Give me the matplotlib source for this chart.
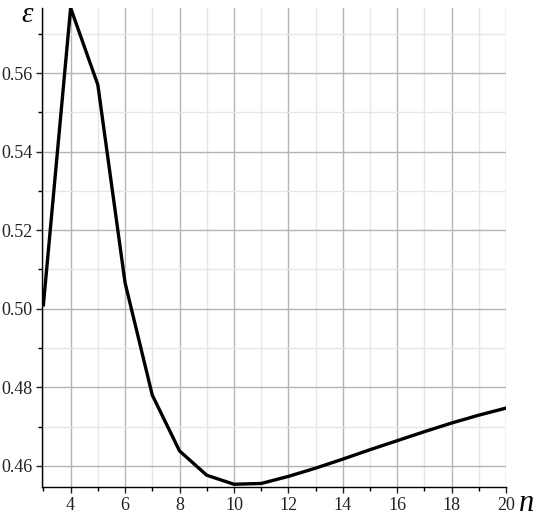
import numpy as np
import matplotlib.pyplot as plt
from matplotlib.ticker import MultipleLocator

# Data
n = [3, 4, 5, 6, 7, 8, 9, 10, 11, 12, 13, 14, 15, 16, 17, 18, 19, 20]
eps = [0.501, 0.5766, 0.557, 0.5066, 0.478, 0.4638, 0.4576, 0.4553, 0.4555,
       0.4573, 0.4594, 0.4617, 0.4641, 0.4664, 0.4687, 0.4709, 0.4729, 0.4747]

plt.rcParams['font.family'] = ['Liberation Serif', 'DejaVu Serif']

fig = plt.figure(figsize=(5.46, 5.24), dpi=100)
ax = fig.add_axes([0.077, 0.0706, 0.85, 0.9144])

ax.plot(n, eps, color='black', lw=2.4, zorder=3)

ax.set_xlim(2.95, 20)
ax.set_ylim(0.4546, 0.5766)
ax.xaxis.set_major_locator(MultipleLocator(2))
ax.xaxis.set_minor_locator(MultipleLocator(1))
ax.yaxis.set_major_locator(MultipleLocator(0.02))
ax.yaxis.set_minor_locator(MultipleLocator(0.01))
ax.yaxis.set_major_formatter(plt.FuncFormatter(lambda v, p: f'{v:.2f}'))

ax.grid(which='major', color='#b4b4b4', lw=1.0)
ax.grid(which='minor', color='#e6e6e6', lw=1.0)
ax.set_axisbelow(True)

for s in ['top', 'right']:
    ax.spines[s].set_visible(False)
ax.spines['left'].set_linewidth(1.0)
ax.spines['bottom'].set_linewidth(1.0)
ax.tick_params(which='major', length=4, width=1, labelsize=13, pad=3,
               colors='#222222')
ax.tick_params(which='minor', length=3, width=1)

fig.text(0.05, 0.972, 'ε', fontsize=21, style='italic', ha='center', va='center')
fig.text(0.965, 0.04, 'n', fontsize=22, style='italic', ha='center', va='center')

fig.savefig('out.png', dpi=100)
